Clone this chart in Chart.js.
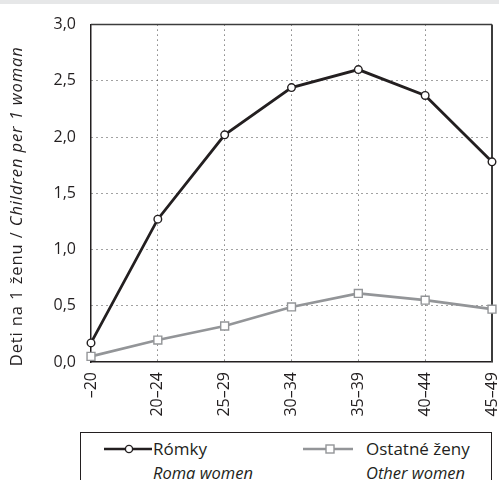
<!DOCTYPE html>
<html>
<head>
<meta charset="utf-8">
<script src="https://cdn.jsdelivr.net/npm/chart.js@4.4.1/dist/chart.umd.min.js"></script>
<style>
  html, body { margin: 0; padding: 0; background: #fff; }
  #wrap { position: relative; width: 499px; height: 480px; overflow: hidden; font-family: "Open Sans", sans-serif; color: #231f20; }
  #band { position: absolute; left: 0; top: 0; width: 499px; height: 4px; background: #e6e7e8; }
  #chart { position: absolute; left: 0; top: 0; }
  #legend { position: absolute; left: 80px; top: 432px; width: 412px; height: 70px; border: 1px solid #231f20; box-sizing: border-box; }
  .sample { position: absolute; top: 6px; }
  .name { position: absolute; font-size: 17px; line-height: 20px; white-space: nowrap; }
  .en { font-style: italic; font-size: 16.5px; }
</style>
</head>
<body>
<div id="wrap">
  <div id="band"></div>
  <canvas id="chart" width="499" height="430"></canvas>
  <div id="legend"></div>
</div>
<script>
// Plodnosť podľa veku matky: Rómky vs. ostatné ženy.
const ageGroups = ["–20", "20–24", "25–29", "30–34", "35–39", "40–44", "45–49"];
const romaValues = [0.17, 1.27, 2.02, 2.44, 2.60, 2.37, 1.78];
const otherValues = [0.05, 0.195, 0.32, 0.49, 0.61, 0.55, 0.47];
const seriesNames = ["Rómky", "Ostatné ženy"];
const seriesNamesEn = ["Roma women", "Other women"];
const yTitle = ["Deti na 1 ženu / ", "Children per 1 woman"];

const ink = "#231f20";
const grey = "#939598";
const font = '"Open Sans", sans-serif';

const $ = (id) => document.getElementById(id);
const comma = (v) => Number(v).toFixed(1).replace(".", ",");

const framePlugin = {
  id: "frame",
  beforeDatasetsDraw(chart) {
    const { ctx, chartArea: a } = chart;
    ctx.save();
    ctx.strokeStyle = "#3c3c3c";
    ctx.lineWidth = 1.5;
    ctx.beginPath(); ctx.moveTo(a.left, a.top); ctx.lineTo(a.right, a.top); ctx.stroke();
    ctx.lineWidth = 2;
    ctx.beginPath(); ctx.moveTo(a.right, a.top); ctx.lineTo(a.right, a.bottom); ctx.stroke();
    ctx.restore();
  }
};

// y title mixes upright Slovak and italic English, so draw it by hand
const titlePlugin = {
  id: "yTitle",
  afterDraw(chart) {
    const { ctx, chartArea: a } = chart;
    const fonts = ["16.5px " + font, "italic 16.5px " + font];
    ctx.save();
    ctx.translate(17, (a.top + a.bottom) / 2 + 13);
    ctx.rotate(-Math.PI / 2);
    ctx.fillStyle = ink;
    ctx.textBaseline = "middle";
    ctx.letterSpacing = "0.9px";
    const widths = yTitle.map((t, i) => { ctx.font = fonts[i]; return ctx.measureText(t).width; });
    let x = -(widths[0] + widths[1]) / 2;
    yTitle.forEach((t, i) => { ctx.font = fonts[i]; ctx.fillText(t, x, 0); x += widths[i]; });
    ctx.restore();
  }
};

new Chart($("chart"), {
  type: "line",
  data: {
    labels: ageGroups,
    datasets: [
      {
        label: seriesNames[0], data: romaValues, clip: false, tension: 0,
        borderColor: ink, borderWidth: 2.8,
        pointStyle: "circle", pointRadius: 3.8, pointBorderWidth: 1.4,
        pointBackgroundColor: "#fff", pointBorderColor: ink
      },
      {
        label: seriesNames[1], data: otherValues, clip: false, tension: 0,
        borderColor: grey, borderWidth: 2.6,
        pointStyle: "rect", pointRadius: 5.6, pointBorderWidth: 1.4,
        pointBackgroundColor: "#fff", pointBorderColor: grey
      }
    ]
  },
  options: {
    responsive: false,
    devicePixelRatio: 1,
    animation: false,
    layout: { padding: { top: 17, right: 7, left: 0, bottom: 0 } },
    plugins: { legend: { display: false }, tooltip: { enabled: false } },
    scales: {
      x: {
        offset: false,
        grid: {
          drawTicks: false, lineWidth: 1,
          color: (c) => (c.index === 0 || c.index === ageGroups.length - 1) ? "rgba(0,0,0,0)" : "#444"
        },
        border: { color: ink, width: 1.5, dash: [1, 4] },
        ticks: { color: ink, font: { family: font, size: 16 }, padding: 10, minRotation: 90, maxRotation: 90, autoSkip: false },
        afterFit: (s) => { s.height = 68; s.paddingLeft = 0; s.paddingRight = 0; }
      },
      y: {
        min: 0, max: 3,
        grid: {
          drawTicks: false, lineWidth: 1,
          color: (c) => (c.tick.value === 0 || c.tick.value === 3) ? "rgba(0,0,0,0)" : "#444"
        },
        border: { color: ink, width: 1.5, dash: [1, 4] },
        ticks: { stepSize: 0.5, color: ink, font: { family: font, size: 16 }, padding: 15, callback: (v) => comma(v) },
        afterFit: (s) => { s.width = 91; }
      }
    }
  },
  plugins: [framePlugin, titlePlugin]
});

// legend: line sample + two-line label (Slovak / English italic)
const legendSpots = [{ line: 23, mid: 48, text: 72 }, { line: 222, mid: 249, text: 285 }];
const legendStyles = [{ color: ink, marker: "circle" }, { color: grey, marker: "rect" }];
$("legend").innerHTML = seriesNames.map((name, i) => {
  const p = legendSpots[i], st = legendStyles[i];
  const len = i === 0 ? 48 : 50;
  const m = p.mid - p.line;
  const marker = st.marker === "circle"
    ? `<circle cx="${m}" cy="10" r="3.6" fill="#fff" stroke="${st.color}" stroke-width="1.4"/>`
    : `<rect x="${m - 4}" y="6" width="8" height="8" fill="#fff" stroke="${st.color}" stroke-width="1.4"/>`;
  return `<svg class="sample" style="left:${p.line}px" width="${len}" height="20">
      <line x1="0" y1="10" x2="${len}" y2="10" stroke="${st.color}" stroke-width="2.6"/>${marker}</svg>
    <div class="name" style="left:${p.text}px;top:6px">${name}</div>
    <div class="name en" style="left:${p.text}px;top:30px">${seriesNamesEn[i]}</div>`;
}).join("");
</script>
</body>
</html>
